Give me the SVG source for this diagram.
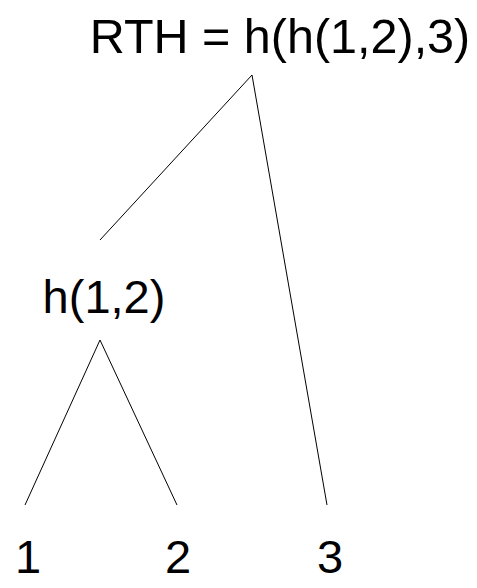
<svg xmlns="http://www.w3.org/2000/svg" width="477" height="588" viewBox="0 0 477 588">
<style>
text{font-family:"Liberation Sans",Arial,sans-serif;font-size:47px;fill:#000;text-anchor:middle}
line{stroke:#000;stroke-width:1}
</style>
<rect width="477" height="588" fill="#fff"/>
<g id="connectors">
<line x1="252" y1="75" x2="100" y2="240"/>
<line x1="252" y1="75" x2="327" y2="505"/>
<line x1="100" y1="340" x2="25" y2="505"/>
<line x1="100" y1="340" x2="177" y2="505"/>
</g>
<g id="root"><text x="280" y="53" style="font-size:48.5px">RTH = h(h(1,2),3)</text></g>
<g id="h12"><text x="104" y="313">h(1,2)</text></g>
<g id="leaf1"><text x="28" y="573">1</text></g>
<g id="leaf2"><text x="178" y="573">2</text></g>
<g id="leaf3"><text x="330" y="573">3</text></g>
</svg>
